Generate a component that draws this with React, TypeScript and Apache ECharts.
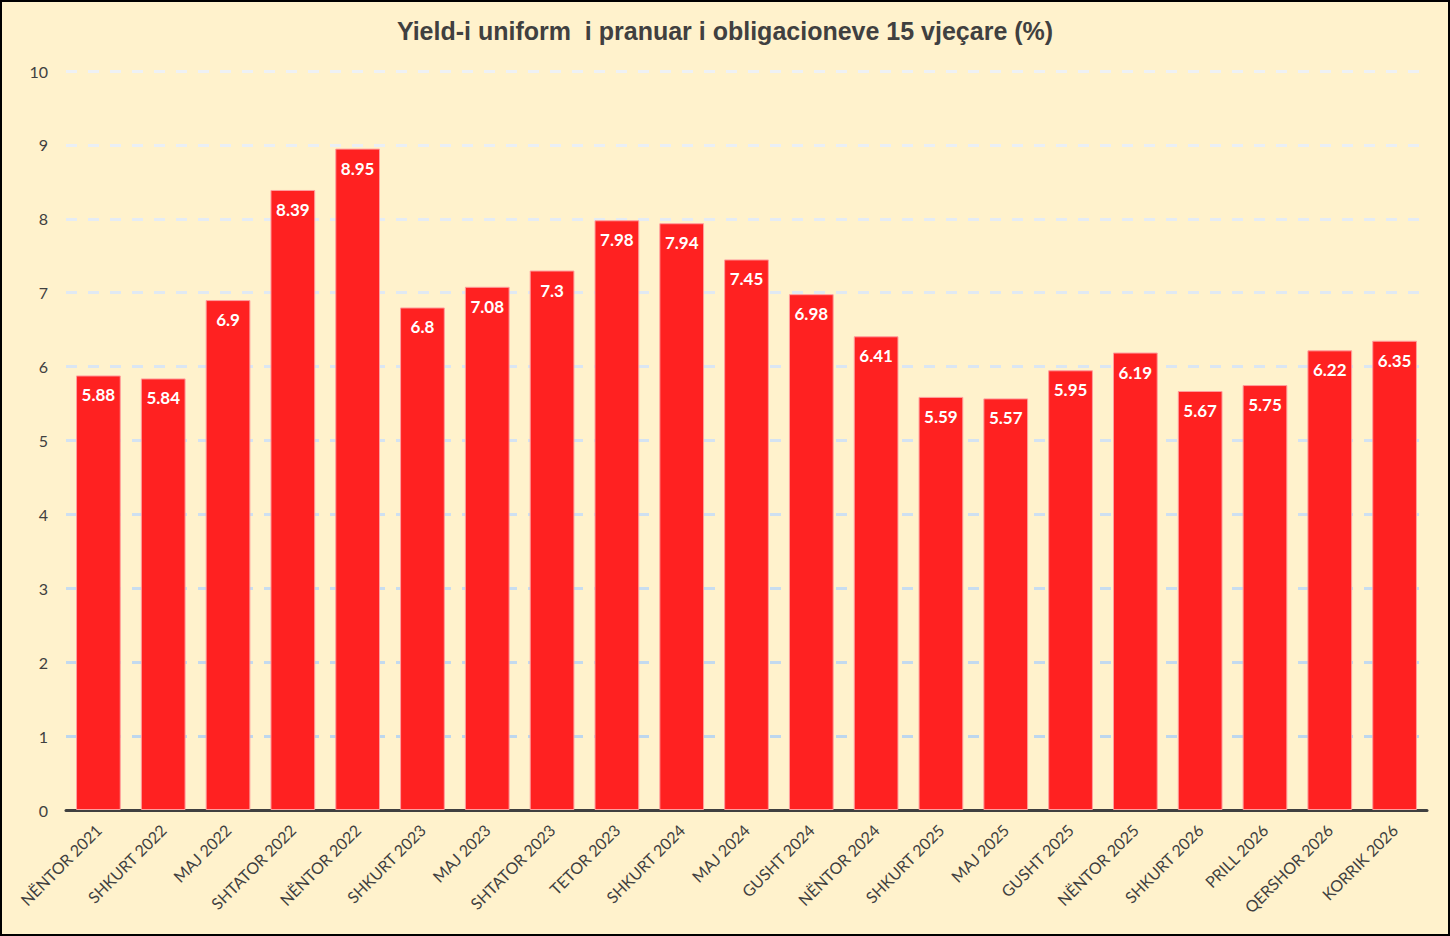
import React, { useEffect, useRef } from "react";
import * as echarts from "echarts";

const categories = [
  "NËNTOR 2021", "SHKURT 2022", "MAJ 2022", "SHTATOR 2022", "NËNTOR 2022",
  "SHKURT 2023", "MAJ 2023", "SHTATOR 2023", "TETOR 2023", "SHKURT 2024",
  "MAJ 2024", "GUSHT 2024", "NËNTOR 2024", "SHKURT 2025", "MAJ 2025",
  "GUSHT 2025", "NËNTOR 2025", "SHKURT 2026", "PRILL 2026", "QERSHOR 2026",
  "KORRIK 2026",
];
const yieldValues = [
  5.88, 5.84, 6.9, 8.39, 8.95, 6.8, 7.08, 7.3, 7.98, 7.94, 7.45, 6.98, 6.41,
  5.59, 5.57, 5.95, 6.19, 5.67, 5.75, 6.22, 6.35,
];
const gridColors = [
  "#BDD7EE", "#BDD7EE", "#C3DAEF", "#C8DDF0", "#CEE0F1", "#D4E3F2",
  "#DAE6F3", "#E0E9F3", "#E5ECF4", "#EAEFF5", "#EEF1F5",
];

export default function App() {
  const ref = useRef<HTMLDivElement>(null);
  useEffect(() => {
    document.body.style.margin = "0";
    const chart = echarts.init(ref.current!, undefined, { renderer: "svg" });
    chart.setOption({
      animation: false,
      backgroundColor: "#FFF2CC",
      title: {
        text: "Yield-i uniform  i pranuar i obligacioneve 15 vjeçare (%)",
        left: "center",
        top: 11,
        textStyle: {
          fontFamily: "Liberation Sans, Arial, sans-serif",
          fontWeight: "bold",
          fontSize: 25,
          color: "#404040",
        },
      },
      grid: { left: 64, right: 21, top: 69, bottom: 124, containLabel: false },
      xAxis: {
        type: "category",
        data: categories,
        axisLine: { lineStyle: { color: "#404040", width: 3 } },
        axisTick: { show: false },
        axisLabel: {
          rotate: 45,
          interval: 0,
          color: "#404040",
          fontFamily: "Lato, Calibri, sans-serif",
          fontSize: 16,
          margin: 17,
        },
      },
      yAxis: {
        type: "value",
        min: 0,
        max: 10,
        interval: 1,
        axisLine: { show: false },
        axisTick: { show: false },
        axisLabel: {
          color: "#404040",
          fontFamily: "Lato, Calibri, sans-serif",
          fontSize: 16,
          margin: 18,
        },
        splitLine: {
          lineStyle: { color: gridColors, width: 3, type: [11, 11] },
        },
      },
      series: [
        {
          type: "bar",
          data: yieldValues,
          barWidth: "69%",
          itemStyle: { color: "#FF2121", borderColor: "#FF9E9E", borderWidth: 1 },
          label: {
            show: true,
            position: "insideTop",
            distance: 11,
            color: "#FFFFFF",
            fontWeight: "bold",
            fontFamily: "Lato, Calibri, sans-serif",
            fontSize: 17,
          },
        },
      ],
    });
    return () => chart.dispose();
  }, []);
  return (
    <div
      style={{
        position: "absolute",
        left: 0,
        top: 0,
        width: 1450,
        height: 936,
        boxSizing: "border-box",
        border: "2px solid #000",
        background: "#FFF2CC",
      }}
    >
      <div ref={ref} style={{ width: 1446, height: 932 }} />
    </div>
  );
}
